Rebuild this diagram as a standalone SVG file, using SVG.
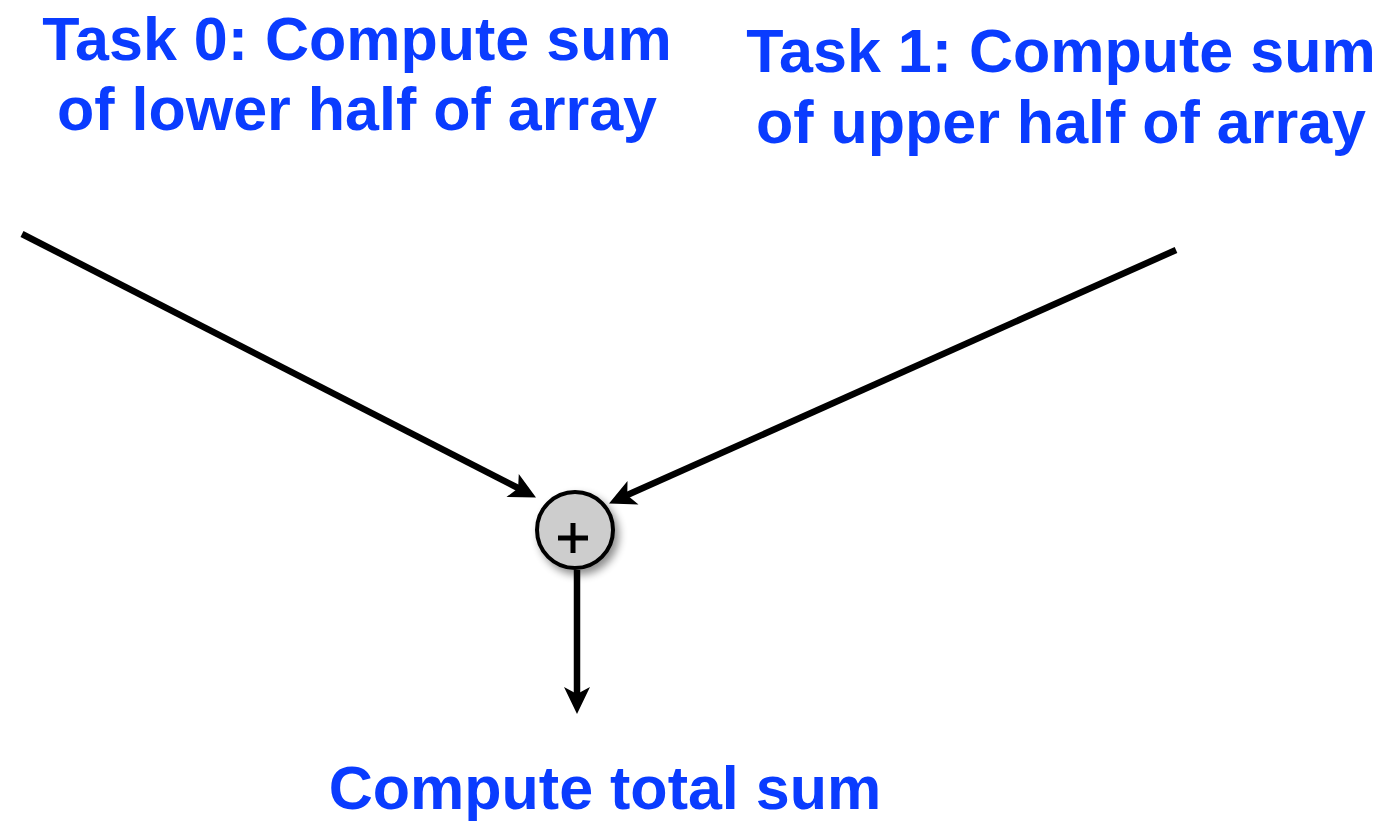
<svg xmlns="http://www.w3.org/2000/svg" width="1389" height="821" viewBox="0 0 1389 821">
<style>
.t{font-family:"Liberation Sans",Arial,sans-serif;font-weight:bold;font-size:61px;fill:#0a3cff}
.c{stroke:#000;stroke-width:6.5;fill:none}
.h{fill:#000}
</style>
<defs>
<filter id="sh" x="-50%" y="-50%" width="200%" height="200%">
<feGaussianBlur in="SourceAlpha" stdDeviation="4"/>
<feOffset dx="4" dy="5"/>
<feComponentTransfer><feFuncA type="linear" slope="0.45"/></feComponentTransfer>
<feMerge><feMergeNode/><feMergeNode in="SourceGraphic"/></feMerge>
</filter>
</defs>
<g id="task0">
<text class="t" x="357" y="60" text-anchor="middle">Task 0: Compute sum</text>
<text class="t" x="357" y="130" text-anchor="middle">of lower half of array</text>
</g>
<g id="task1">
<text class="t" x="1061" y="72" text-anchor="middle">Task 1: Compute sum</text>
<text class="t" x="1061" y="143" text-anchor="middle">of upper half of array</text>
</g>
<g id="total">
<text class="t" x="605" y="809" text-anchor="middle">Compute total sum</text>
</g>
<g id="connectors">
<line class="c" x1="22" y1="234" x2="520" y2="489"/>
<path class="h" d="M536,497.5 L506.5,497 L518.1,488.3 L518.8,474 Z"/>
<line class="c" x1="1176" y1="250" x2="625" y2="496"/>
<path class="h" d="M609,503.5 L638.5,504.5 L627.3,495.2 L627.5,481 Z"/>
<line class="c" x1="577" y1="570" x2="577" y2="696"/>
<path class="h" d="M577,714 L564,687 L577,694 L590,687 Z"/>
</g>
<g id="plus">
<circle cx="575" cy="530" r="38" fill="#cdcdcd" stroke="#000" stroke-width="4" filter="url(#sh)"/>
<path d="M558,538 H588 M573,523 V553" stroke="#000" stroke-width="5" fill="none"/>
</g>
</svg>
